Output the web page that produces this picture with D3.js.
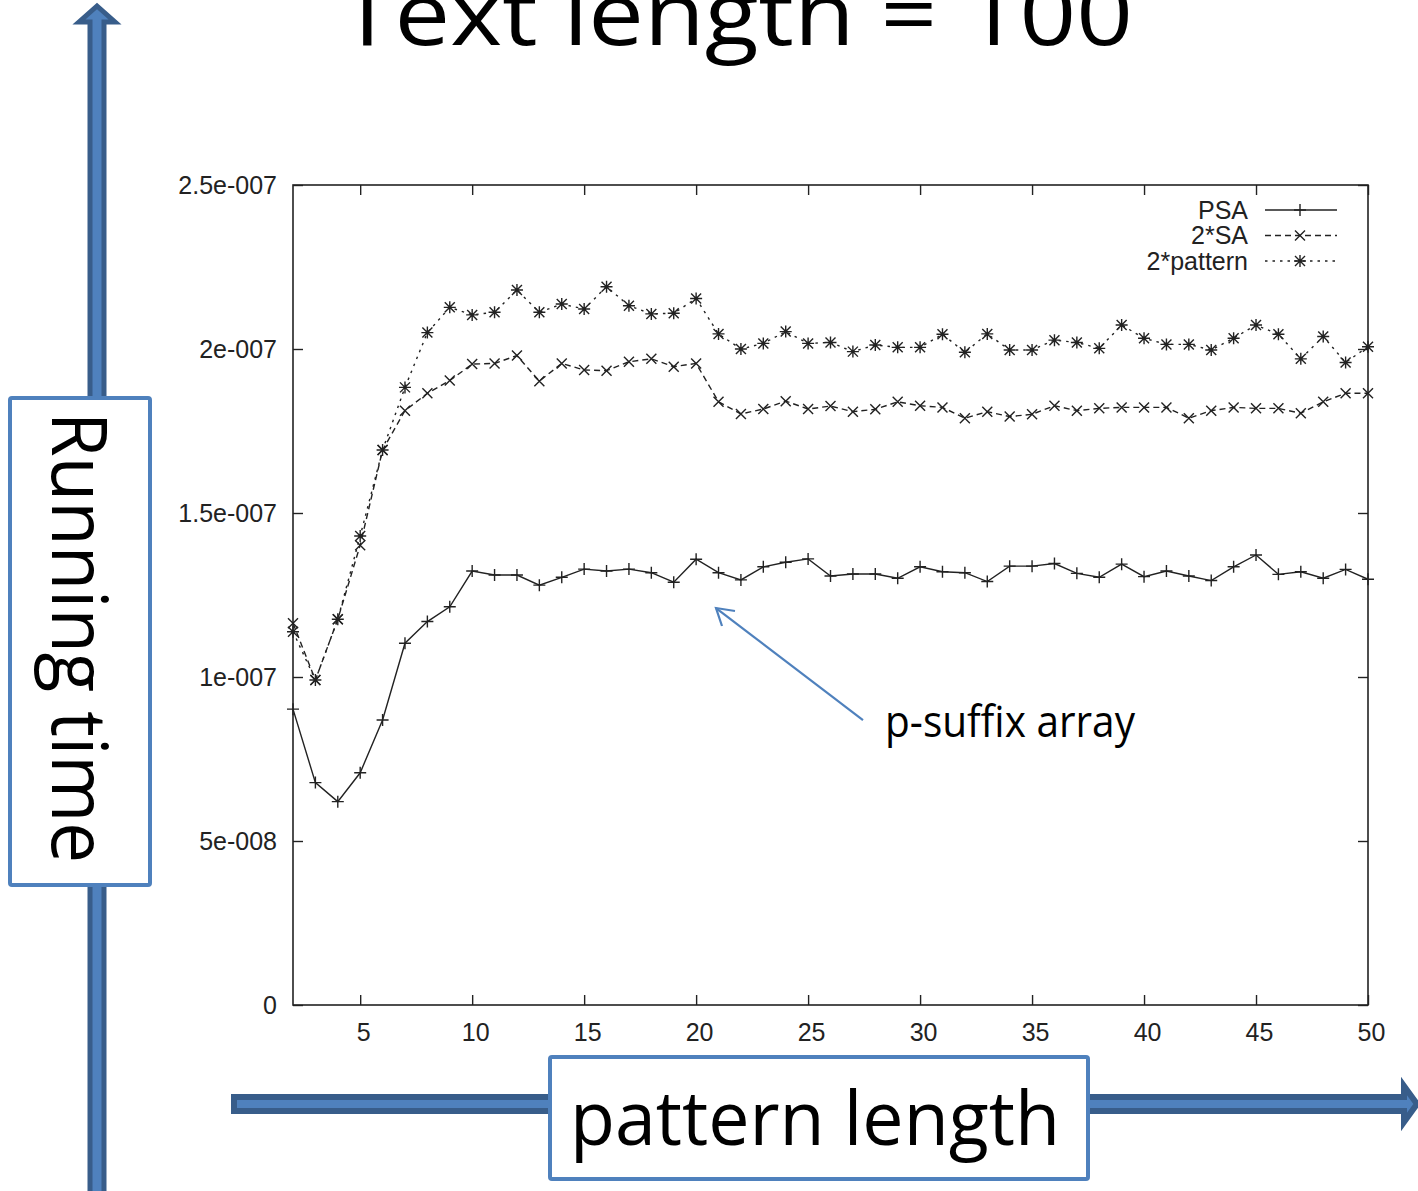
<!DOCTYPE html>
<html>
<head>
<meta charset="utf-8">
<script src="https://cdn.jsdelivr.net/npm/d3@7/dist/d3.min.js"></script>
<style>
  body { margin: 0; background: #fff; }
  svg { display: block; }
</style>
</head>
<body>
<svg id="canvas" width="1418" height="1191"></svg>
<script>
// pattern length on the x axis
let patternLength = [2, 3, 4, 5, 6, 7, 8, 9, 10,
  11, 12, 13, 14, 15, 16, 17, 18, 19, 20,
  21, 22, 23, 24, 25, 26, 27, 28, 29, 30,
  31, 32, 33, 34, 35, 36, 37, 38, 39, 40,
  41, 42, 43, 44, 45, 46, 47, 48, 49, 50]

// running times, in units of 1e-7
let psa = [0.902, 0.678, 0.620, 0.708, 0.869, 1.103, 1.169, 1.214, 1.323,
  1.311, 1.311, 1.280, 1.304, 1.329, 1.323, 1.329, 1.318, 1.289, 1.359,
  1.318, 1.296, 1.336, 1.350, 1.360, 1.308, 1.314, 1.314, 1.301, 1.336,
  1.321, 1.318, 1.291, 1.338, 1.338, 1.346, 1.316, 1.304, 1.344, 1.306,
  1.323, 1.308, 1.294, 1.336, 1.372, 1.313, 1.321, 1.301, 1.328, 1.298]

let twoSA = [1.164, 0.991, 1.176, 1.402, 1.692, 1.812, 1.865, 1.904, 1.954,
  1.956, 1.980, 1.902, 1.956, 1.936, 1.934, 1.961, 1.970, 1.946, 1.956,
  1.839, 1.802, 1.817, 1.841, 1.817, 1.826, 1.809, 1.816, 1.839, 1.827,
  1.822, 1.789, 1.809, 1.794, 1.801, 1.827, 1.812, 1.819, 1.822, 1.822,
  1.822, 1.789, 1.812, 1.822, 1.819, 1.819, 1.804, 1.839, 1.865, 1.865]

let twoPattern = [1.138, 0.991, 1.176, 1.430, 1.692, 1.883, 2.050, 2.127, 2.104,
  2.112, 2.180, 2.112, 2.137, 2.122, 2.190, 2.132, 2.107, 2.109, 2.154,
  2.046, 2.000, 2.017, 2.053, 2.017, 2.020, 1.992, 2.012, 2.005, 2.005,
  2.045, 1.990, 2.046, 1.997, 1.997, 2.027, 2.020, 2.002, 2.073, 2.033,
  2.014, 2.014, 1.997, 2.033, 2.073, 2.045, 1.970, 2.038, 1.959, 2.007]

let xTicks = [5, 10, 15, 20, 25, 30, 35, 40, 45, 50]
let yTicks = [0, 0.5e-7, 1e-7, 1.5e-7, 2e-7, 2.5e-7]
let yTickLabels = ['0', '5e-008', '1e-007', '1.5e-007', '2e-007', '2.5e-007']

let seriesNames = ['PSA', '2*SA', '2*pattern']

const ink = '#222'
const blue = '#4f81bd'
const darkBlue = '#385d8a'
const officeFont = "'Open Sans', 'Noto Sans', sans-serif"
const plotFont = "'Liberation Sans', Arial, sans-serif"

let svg = d3.select('#canvas')

// plot box
let plotLeft = 293, plotRight = 1368, plotTop = 185, plotBottom = 1005

let x = d3.scaleLinear().domain([2, 50]).range([plotLeft, plotRight])
let y = d3.scaleLinear().domain([0, 2.5e-7]).range([plotBottom, plotTop])

// ---- blue axis arrows (drawn first, boxes sit on top) ----
// vertical arrow
svg.append('path')
  .attr('d', 'M90,1200 V22 H79 L97,6 L115,22 H104 V1200 Z')
  .attr('fill', blue).attr('stroke', darkBlue).attr('stroke-width', 5)

// horizontal arrow
svg.append('path')
  .attr('d', 'M234,1097 H1404 V1086 L1417,1104 L1404,1122 V1111 H234 Z')
  .attr('fill', blue).attr('stroke', darkBlue).attr('stroke-width', 6)

// title, cut by the top edge as in the slide
svg.append('text')
  .attr('x', 340).attr('y', 45)
  .attr('font-family', officeFont).attr('font-size', 88)
  .attr('textLength', 793).attr('lengthAdjust', 'spacingAndGlyphs')
  .attr('fill', '#000')
  .text('Text length = 100')

// ---- axes, gnuplot style: ticks inward on all four sides ----
let fmtY = (d) => yTickLabels[yTicks.indexOf(d)]

let gx = svg.append('g').attr('transform', `translate(0,${plotBottom})`)
  .call(d3.axisBottom(x).tickValues(xTicks).tickSizeInner(-10).tickSizeOuter(0).tickPadding(18))
let gxTop = svg.append('g').attr('transform', `translate(0,${plotTop})`)
  .call(d3.axisTop(x).tickValues(xTicks).tickSizeInner(-10).tickSizeOuter(0).tickFormat(''))
let gy = svg.append('g').attr('transform', `translate(${plotLeft},0)`)
  .call(d3.axisLeft(y).tickValues(yTicks).tickSizeInner(-10).tickSizeOuter(0).tickPadding(16).tickFormat(fmtY))
let gyRight = svg.append('g').attr('transform', `translate(${plotRight},0)`)
  .call(d3.axisRight(y).tickValues(yTicks).tickSizeInner(-10).tickSizeOuter(0).tickFormat(''))

for (let g of [gx, gxTop, gy, gyRight]) {
  g.select('.domain').remove()
  g.selectAll('line').attr('stroke', ink).attr('stroke-width', 1.4)
  g.selectAll('text').attr('font-family', plotFont).attr('font-size', 25).attr('fill', ink)
}
gx.selectAll('text').attr('dx', 3)

svg.append('rect')
  .attr('x', plotLeft).attr('y', plotTop)
  .attr('width', plotRight - plotLeft).attr('height', plotBottom - plotTop)
  .attr('fill', 'none').attr('stroke', ink).attr('stroke-width', 1.6)

// ---- series ----
let markers = {
  plus: 'M-6,0H6M0,-6V6',
  cross: 'M-5,-5L5,5M-5,5L5,-5',
  star: 'M-6,0H6M0,-6V6M-5,-5L5,5M-5,5L5,-5'
}

let series = [
  {name: seriesNames[0], values: psa, dash: null, marker: markers.plus},
  {name: seriesNames[1], values: twoSA, dash: '6,4', marker: markers.cross},
  {name: seriesNames[2], values: twoPattern, dash: '2.5,5', marker: markers.star}
]

let line = d3.line()
  .x((d, i) => x(patternLength[i]))
  .y((d) => y(d * 1e-7))

let plot = svg.append('g')
series.forEach((s) => {
  plot.append('path')
    .attr('d', line(s.values))
    .attr('fill', 'none').attr('stroke', ink).attr('stroke-width', 1.4)
    .attr('stroke-dasharray', s.dash)
  plot.selectAll(null).data(s.values).enter().append('path')
    .attr('transform', (d, i) => `translate(${x(patternLength[i])},${y(d * 1e-7)})`)
    .attr('d', s.marker)
    .attr('fill', 'none').attr('stroke', ink).attr('stroke-width', 1.4)
})

// legend
let legend = svg.append('g')
series.forEach((s, i) => {
  let ly = 210 + i * 25.5
  legend.append('text')
    .attr('x', 1248).attr('y', ly).attr('dy', '0.35em')
    .attr('text-anchor', 'end')
    .attr('font-family', plotFont).attr('font-size', 25).attr('fill', ink)
    .text(s.name)
  legend.append('line')
    .attr('x1', 1265).attr('x2', 1337).attr('y1', ly).attr('y2', ly)
    .attr('stroke', ink).attr('stroke-width', 1.4)
    .attr('stroke-dasharray', s.dash)
  legend.append('path')
    .attr('transform', `translate(1300,${ly})`)
    .attr('d', s.marker)
    .attr('fill', 'none').attr('stroke', ink).attr('stroke-width', 1.4)
})

// ---- annotation ----
svg.append('line')
  .attr('x1', 863).attr('y1', 720).attr('x2', 716).attr('y2', 608)
  .attr('stroke', blue).attr('stroke-width', 2.2)
svg.append('path')
  .attr('d', 'M735,611 L716,608 L722,626')
  .attr('fill', 'none').attr('stroke', blue).attr('stroke-width', 2.2)
svg.append('text')
  .attr('x', 885).attr('y', 737)
  .attr('font-family', officeFont).attr('font-size', 44)
  .attr('textLength', 250).attr('lengthAdjust', 'spacingAndGlyphs')
  .attr('fill', '#000')
  .text('p-suffix array')

// ---- axis caption boxes ----
svg.append('rect')
  .attr('x', 10).attr('y', 398).attr('width', 140).attr('height', 487)
  .attr('rx', 2)
  .attr('fill', '#fff').attr('stroke', blue).attr('stroke-width', 4)
svg.append('text')
  .attr('transform', 'translate(52,412) rotate(90)')
  .attr('font-family', officeFont).attr('font-size', 77)
  .attr('textLength', 451).attr('lengthAdjust', 'spacingAndGlyphs')
  .attr('fill', '#000')
  .text('Running time')

svg.append('rect')
  .attr('x', 550).attr('y', 1057).attr('width', 538).attr('height', 122)
  .attr('rx', 2)
  .attr('fill', '#fff').attr('stroke', blue).attr('stroke-width', 4)
svg.append('text')
  .attr('x', 570).attr('y', 1145)
  .attr('font-family', officeFont).attr('font-size', 75)
  .attr('textLength', 490).attr('lengthAdjust', 'spacingAndGlyphs')
  .attr('fill', '#000')
  .text('pattern length')
</script>
</body>
</html>
